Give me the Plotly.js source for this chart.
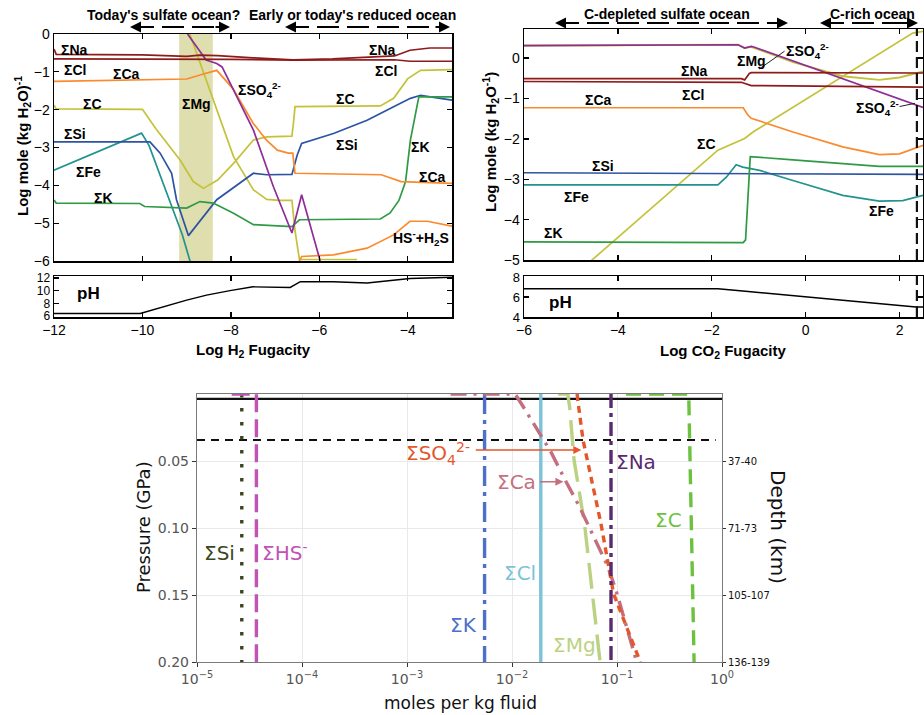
<!DOCTYPE html>
<html><head><meta charset="utf-8">
<script src="https://cdn.plot.ly/plotly-3.0.1.min.js"></script>
<style>html,body{margin:0;padding:0;background:#fff}#chart{width:924px;height:715px}</style>
</head><body><div id="chart"></div>
<script>
// ===== Panel A : Log H2 fugacity =====
const aNa_x = [-12, -11.95, -10.0, -9.5, -9.0, -8.7, -8.3, -7.5, -6.6, -5.7, -4.8, -4.3, -3.95, -3.5, -3.0];
const aNa_y = [-0.40, -0.54, -0.55, -0.58, -0.59, -0.56, -0.57, -0.63, -0.68, -0.66, -0.62, -0.58, -0.43, -0.37, -0.37];
const aCl_x = [-12, -10, -8, -6.6, -4.3, -3.95, -3.0];
const aCl_y = [-0.66, -0.66, -0.67, -0.69, -0.68, -0.72, -0.72];
const aCa_x = [-12, -10, -9.0, -8.6, -8.32, -7.95, -7.5, -7.2, -6.95, -6.7, -6.6, -6.55, -4.6, -4.15, -3.0];
const aCa_y = [-1.25, -1.22, -1.19, -1.05, -0.96, -1.45, -2.35, -2.8, -3.07, -3.15, -3.15, -3.68, -3.72, -3.9, -3.95];
const aC_x = [-12, -11.95, -10.0, -9.7, -9.15, -8.85, -8.62, -8.3, -7.94, -7.49, -7.19, -6.62, -6.58, -6.55, -4.62, -4.32, -4.0, -3.71, -3.0];
const aC_y = [-1.88, -1.98, -1.99, -2.5, -3.33, -3.9, -4.08, -3.86, -3.42, -2.8, -2.72, -2.7, -2.3, -1.92, -1.9, -1.7, -1.18, -0.96, -0.94];
const aMg_x = [-8.93, -8.4, -7.94, -7.49, -7.19, -6.9, -6.62, -6.55, -6.45, -5.15];
const aMg_y = [0, -1.75, -3.24, -4.12, -4.37, -4.4, -4.4, -5.2, -5.96, -5.96];
const aSO4_x = [-8.98, -8.56, -8.32, -8.2, -7.49, -7.04, -6.62, -6.40, -5.98, -5.9];
const aSO4_y = [0, -0.69, -0.78, -0.87, -2.54, -4.03, -5.26, -4.25, -6.0, -6.3];
const aSi_x = [-12, -9.83, -9.6, -9.34, -9.23, -8.96, -8.32, -7.49, -7.19, -6.62, -6.5, -6.40, -5.68, -4.92, -4.32, -3.94, -3.71, -3.0];
const aSi_y = [-2.85, -2.85, -3.15, -3.68, -4.38, -5.33, -4.38, -3.68, -3.72, -3.71, -3.2, -2.89, -2.63, -2.28, -1.92, -1.7, -1.62, -1.75];
const aFe_x = [-12, -10.02, -9.85, -9.5, -9.1, -8.9];
const aFe_y = [-3.6, -2.62, -2.95, -4.05, -5.3, -6.1];
const aK_x = [-12, -11.95, -10.06, -9.95, -9.0, -8.7, -8.4, -7.94, -7.49, -6.62, -6.45, -4.62, -4.4, -4.2, -4.05, -3.94, -3.75, -3.0];
const aK_y = [-4.39, -4.47, -4.48, -4.56, -4.6, -4.43, -4.47, -4.74, -5.04, -5.09, -4.91, -4.89, -4.73, -4.4, -3.9, -2.8, -1.66, -1.66];
const aHS_x = [-6.45, -6.4, -5.68, -4.92, -4.32, -3.95, -3.56, -3.0];
const aHS_y = [-6.0, -5.88, -5.84, -5.66, -5.31, -4.95, -4.95, -5.08];
const aPH_x = [-12, -10.05, -9.0, -8.55, -8.02, -7.5, -6.66, -6.43, -5.68, -4.92, -3.95, -3.0];
const aPH_y = [6.4, 6.4, 8.5, 9.3, 10.0, 10.6, 10.5, 11.4, 11.4, 11.2, 11.9, 12.1];
const aBand = [-9.17, -8.41];
const aLabelText = ['ΣNa','ΣCl','ΣCa','ΣC','ΣSi','ΣFe','ΣK','ΣMg','ΣSO<sub>4</sub><sup>2-</sup>','ΣNa','ΣCl','ΣC','ΣSi','ΣK','ΣCa','HS<sup>-</sup>+H<sub>2</sub>S'];
const aLabelX = [-11.53, -11.53, -10.36, -11.12, -11.53, -11.23, -10.89, -8.77, -7.36, -4.58, -4.5, -5.41, -5.38, -3.71, -3.45, -3.70];
const aLabelY = [-0.41, -0.96, -1.05, -1.84, -2.63, -3.64, -4.34, -1.84, -1.49, -0.43, -0.98, -1.73, -2.93, -2.98, -3.77, -5.40];
const aTicks = [-12, -10, -8, -6, -4];

// ===== Panel B : Log CO2 fugacity =====
const bSO4_x = [-6, -1.44, -1.30, -1.16, -1.12, 0.0, 1.0, 2.5];
const bSO4_y = [0.31, 0.33, 0.25, 0.29, 0.28, -0.18, -0.6, -1.22];
const bMg_x = [-6, -1.44, -1.30, -1.16, -0.27, 0.79, 1.57, 2.0, 2.5];
const bMg_y = [0.31, 0.33, 0.25, 0.28, -0.1, -0.45, -0.54, -0.48, -0.33];
const bNa_x = [-6, -1.37, -1.3, -1.2, -1.16, 2.5];
const bNa_y = [-0.51, -0.51, -0.54, -0.38, -0.36, -0.37];
const bCl_x = [-6, -1.37, -1.16, 2.5];
const bCl_y = [-0.58, -0.6, -0.68, -0.72];
const bCa_x = [-6, -1.33, -1.23, -1.16, -0.27, 0.79, 1.57, 2.0, 2.5];
const bCa_y = [-1.23, -1.23, -1.41, -1.49, -1.83, -2.2, -2.39, -2.37, -2.16];
const bC_x = [-4.6, -2.75, -1.87, -1.3, -1.12, 2.28, 2.5];
const bC_y = [-5.05, -3.17, -2.28, -1.99, -1.83, 0.62, 0.66];
const bSi_x = [-6, -1.2, 2.5];
const bSi_y = [-2.84, -2.86, -2.88];
const bFe_x = [-6, -1.87, -1.69, -1.48, -1.34, -0.98, -0.27, 0.79, 1.57, 2.07, 2.5];
const bFe_y = [-3.14, -3.14, -2.95, -2.64, -2.7, -2.78, -3.03, -3.4, -3.54, -3.53, -3.4];
const bK_x = [-6, -1.33, -1.28, -1.18, -0.27, 1.57, 2.5];
const bK_y = [-4.55, -4.57, -4.5, -2.44, -2.52, -2.68, -2.68];
const bPH_x = [-6, -1.87, -1.34, -0.27, 0.79, 2.35, 2.5];
const bPH_y = [6.83, 6.83, 6.6, 6.17, 5.67, 5.0, 5.0];
const bLimit = 2.37;
const bLabelText = ['ΣMg','ΣSO<sub>4</sub><sup>2-</sup>','ΣNa','ΣCl','ΣCa','ΣC','ΣSi','ΣFe','ΣK','ΣFe','ΣSO<sub>4</sub><sup>2-</sup>'];
const bLabelX = [-1.16, 0.05, -2.36, -2.40, -4.42, -2.11, -4.31, -4.88, -5.38, 1.61, 1.54];
const bLabelY = [-0.08, 0.17, -0.33, -0.91, -1.04, -2.12, -2.66, -3.44, -4.34, -3.78, -1.24];
const bTicks = [-6, -4, -2, 0, 2];

// ===== Panel C : moles per kg fluid vs pressure =====
const cSi_x = [2.67e-5, 2.67e-5];            const cSi_p = [0, 0.2];
const cHS_x = [2.14e-5, 3.68e-5, 3.68e-5];   const cHS_p = [0, 0, 0.2];
const cK_x = [0.00548, 0.00548];             const cK_p = [0, 0.2];
const cCl_x = [0.0188, 0.0188];              const cCl_p = [0, 0.2];
const cMg_x = [0.0275, 0.034, 0.0355, 0.039, 0.049, 0.069];
const cMg_p = [0, 0, 0.0107, 0.0493, 0.0966, 0.2];
const cNa_x = [0.0877, 0.0877];              const cNa_p = [0, 0.2];
const cSO4_x = [0.0417, 0.0423, 0.0475, 0.0703, 0.0927, 0.1667];
const cSO4_p = [0, 0.0045, 0.0344, 0.0966, 0.149, 0.2];
const cCa_x = [0.0026, 0.0107, 0.0125, 0.0171, 0.0234, 0.0321, 0.044, 0.0601, 0.0822, 0.1, 0.154];
const cCa_p = [0, 0, 0.0082, 0.0257, 0.043, 0.0643, 0.0842, 0.1066, 0.129, 0.149, 0.2];
const cC_x = [0.122, 0.482, 0.542];          const cC_p = [0, 0, 0.2];
const cSurface_p = 0.0037;
const cIce_p = 0.0344;
const cXTicks = [1e-5, 1e-4, 1e-3, 1e-2, 1e-1, 1];
const cXTickText = ['10<sup>−5</sup>','10<sup>−4</sup>','10<sup>−3</sup>','10<sup>−2</sup>','10<sup>−1</sup>','10<sup>0</sup>'];
const cPTicks = [0.05, 0.10, 0.15, 0.20];
const cPTickText = ['0.05','0.10','0.15','0.20'];
const cDepthText = ['37-40','71-73','105-107','136-139'];
const cLabelText = ['ΣSi','ΣHS<sup>-</sup>','ΣSO<sub>4</sub><sup>2-</sup>','ΣCa','ΣNa','ΣC','ΣCl','ΣK','ΣMg'];
const cLabelLogX = [-4.785, -4.171, -2.705, -1.96, -0.818, -0.505, -1.92, -2.466, -1.409];
const cLabelP = [0.1183, 0.1178, 0.0443, 0.0655, 0.0506, 0.0941, 0.1335, 0.1726, 0.1875];

// ---------- build ----------
const PX = v => v / 924, PY = v => 1 - v / 715;
const AF = 'Arial, "Liberation Sans", sans-serif';
const DF = '"DejaVu Sans", Verdana, sans-serif';
const traces = [];
function ln(x, y, xa, ya, color, width, dash) {
  traces.push({x: x, y: y, xaxis: xa, yaxis: ya, type: 'scatter', mode: 'lines',
    line: {color: color, width: width, dash: dash || 'solid'}, hoverinfo: 'skip', showlegend: false});
}
// Panel A
const cRed = '#8e1b1b', cOr = '#fb8a2c', cYel = '#c4c23a', cPur = '#8e2d98', cBlu = '#2d54a3', cTeal = '#22938f', cGrn = '#2f9a44';
ln(aC_x, aC_y, 'x', 'y', cYel, 1.7);
ln(aMg_x, aMg_y, 'x', 'y', cYel, 1.7);
ln(aFe_x, aFe_y, 'x', 'y', cTeal, 1.7);
ln(aSi_x, aSi_y, 'x', 'y', cBlu, 1.7);
ln(aK_x, aK_y, 'x', 'y', cGrn, 1.7);
ln(aCa_x, aCa_y, 'x', 'y', cOr, 1.7);
ln(aHS_x, aHS_y, 'x', 'y', cOr, 1.7);
ln(aSO4_x, aSO4_y, 'x', 'y', cPur, 1.7);
ln(aCl_x, aCl_y, 'x', 'y', cRed, 1.7);
ln(aNa_x, aNa_y, 'x', 'y', cRed, 1.7);
ln(aPH_x, aPH_y, 'x2', 'y2', '#000', 1.4);
// Panel B
ln(bC_x, bC_y, 'x3', 'y3', cYel, 1.7);
ln(bFe_x, bFe_y, 'x3', 'y3', cTeal, 1.7);
ln(bSi_x, bSi_y, 'x3', 'y3', cBlu, 1.7);
ln(bK_x, bK_y, 'x3', 'y3', cGrn, 1.7);
ln(bCa_x, bCa_y, 'x3', 'y3', cOr, 1.7);
ln(bMg_x, bMg_y, 'x3', 'y3', cYel, 1.9);
ln(bSO4_x, bSO4_y, 'x3', 'y3', cPur, 1.7);
ln(bCl_x, bCl_y, 'x3', 'y3', cRed, 1.7);
ln(bNa_x, bNa_y, 'x3', 'y3', cRed, 1.7);
ln(bPH_x, bPH_y, 'x4', 'y4', '#000', 1.4);
ln([bLimit, bLimit], [-5, 0.72], 'x3', 'y3', '#111', 2.2, '11px,5px');
ln([bLimit, bLimit], [4, 8.1], 'x4', 'y4', '#111', 2.2, '11px,5px');
ln([-0.99, -0.45], [-0.27, 0.17], 'x3', 'y3', '#222', 1, 'solid');
ln([2.0, 2.33], [-1.20, -1.12], 'x3', 'y3', '#222', 1, 'solid');
// Panel C
const W = 3.4;
ln([1e-5, 1], [cSurface_p, cSurface_p], 'x5', 'y5', '#111', 2.2);
ln([1e-5, 0.87], [cIce_p, cIce_p], 'x5', 'y5', '#111', 2, '8px,6px');
ln(cSi_x, cSi_p, 'x5', 'y5', '#3b4720', W, '3.5px,10.5px');
ln(cHS_x, cHS_p, 'x5', 'y5', '#c152b6', W, '18px,7px');
ln(cK_x, cK_p, 'x5', 'y5', '#4d70c8', W, '20px,6px,4px,6px');
ln(cCl_x, cCl_p, 'x5', 'y5', '#7dc3d8', W);
ln(cMg_x, cMg_p, 'x5', 'y5', '#bcd283', W, '26px,10px');
ln(cCa_x, cCa_p, 'x5', 'y5', '#c46f7e', W, '16px,7px,3px,7px');
ln(cSO4_x, cSO4_p, 'x5', 'y5', '#e3572b', W, '7px,5px');
ln(cNa_x, cNa_p, 'x5', 'y5', '#5b2a6e', W, '14px,5px,4px,5px');
ln(cC_x, cC_p, 'x5', 'y5', '#6cc23f', W, '15px,8px');
// invisible carrier so the depth axis (y6) is drawn
traces.push({x: [1e-3], y: [0.1], xaxis: 'x5', yaxis: 'y6', type: 'scatter', mode: 'markers',
  marker: {opacity: 0, size: 1}, hoverinfo: 'skip', showlegend: false});

const cLabelColor = ['#3b4720', '#c152b6', '#e3572b', '#c46f7e', '#5b2a6e', '#6cc23f', '#7dc3d8', '#4d70c8', '#bcd283'];

const frame = {showline: true, linecolor: '#000', linewidth: 1.5, mirror: 'allticks', ticks: 'inside',
  ticklen: 5, tickwidth: 1.3, tickcolor: '#000', showgrid: false, zeroline: false, fixedrange: true,
  tickfont: {family: AF, size: 14, color: '#000'}};
const layout = {
  width: 924, height: 715, margin: {l: 0, r: 0, t: 0, b: 0}, paper_bgcolor: '#fff', plot_bgcolor: 'rgba(0,0,0,0)',
  showlegend: false,
  xaxis: Object.assign({}, frame, {domain: [PX(54), PX(452)], range: [-12, -3], anchor: 'y', tickvals: aTicks, showticklabels: false}),
  yaxis: Object.assign({}, frame, {domain: [PY(261), PY(34)], range: [-6, 0], anchor: 'x', dtick: 1}),
  xaxis2: Object.assign({}, frame, {domain: [PX(54), PX(452)], range: [-12, -3], anchor: 'y2', tickvals: aTicks}),
  yaxis2: Object.assign({}, frame, {domain: [PY(317), PY(276)], range: [5.85, 12.3], anchor: 'x2', tickvals: [6, 8, 10, 12], tickfont: {family: AF, size: 12, color: '#000'}}),
  xaxis3: Object.assign({}, frame, {domain: [PX(524), PX(923)], range: [-6, 2.5], anchor: 'y3', tickvals: bTicks, showticklabels: false}),
  yaxis3: Object.assign({}, frame, {domain: [PY(260), PY(29)], range: [-5, 0.72], anchor: 'x3', dtick: 1}),
  xaxis4: Object.assign({}, frame, {domain: [PX(524), PX(923)], range: [-6, 2.5], anchor: 'y4', tickvals: bTicks}),
  yaxis4: Object.assign({}, frame, {domain: [PY(317), PY(276)], range: [4, 8.1], anchor: 'x4', tickvals: [4, 6, 8], tickfont: {family: AF, size: 13, color: '#000'}}),
  xaxis5: {domain: [PX(197), PX(722)], type: 'log', range: [-5, 0], anchor: 'y5', tickvals: cXTicks, ticktext: cXTickText,
    ticks: 'outside', ticklen: 4, tickcolor: '#333', showline: true, linecolor: '#7a7a7a', linewidth: 1.2, mirror: true,
    showgrid: true, gridcolor: '#e9e9e9', gridwidth: 1, zeroline: false, fixedrange: true,
    tickfont: {family: DF, size: 14, color: '#555'}},
  yaxis5: {domain: [PY(662), PY(394)], range: [0.2, 0], anchor: 'x5', tickvals: cPTicks, ticktext: cPTickText,
    ticks: 'outside', ticklen: 4, tickcolor: '#333', showline: true, linecolor: '#7a7a7a', linewidth: 1.2, mirror: true,
    showgrid: true, gridcolor: '#e9e9e9', gridwidth: 1, zeroline: false, fixedrange: true,
    tickfont: {family: DF, size: 14, color: '#555'}},
  yaxis6: {overlaying: 'y5', side: 'right', anchor: 'x5', range: [0.2, 0], tickvals: cPTicks, ticktext: cDepthText,
    ticks: 'outside', ticklen: 3, tickcolor: '#333', showgrid: false, zeroline: false, showline: false, fixedrange: true,
    tickfont: {family: DF, size: 10, color: '#111'}},
  shapes: [
    {type: 'rect', xref: 'x', yref: 'y', x0: aBand[0], x1: aBand[1], y0: -6, y1: 0, fillcolor: '#dedeae', line: {width: 0}, layer: 'below'},
    {type: 'line', xref: 'paper', yref: 'paper', x0: PX(132), x1: PX(228), y0: PY(27), y1: PY(27), line: {color: '#000', width: 2, dash: '22px,8px'}},
    {type: 'line', xref: 'paper', yref: 'paper', x0: PX(287), x1: PX(448), y0: PY(27), y1: PY(27), line: {color: '#000', width: 2, dash: '22px,8px'}},
    {type: 'line', xref: 'paper', yref: 'paper', x0: PX(557), x1: PX(786), y0: PY(23), y1: PY(23), line: {color: '#000', width: 2, dash: '22px,8px'}},
    {type: 'line', xref: 'paper', yref: 'paper', x0: PX(822), x1: PX(916), y0: PY(23), y1: PY(23), line: {color: '#000', width: 2, dash: '22px,8px'}}
  ],
  annotations: []
};
const ann = layout.annotations;
function head(px, py, dir) {
  ann.push({xref: 'paper', yref: 'paper', x: PX(px), y: PY(py), ax: 16 * dir, ay: 0, text: '', showarrow: true,
    arrowhead: 2, arrowsize: 1.1, arrowwidth: 2, arrowcolor: '#000'});
}
head(130, 27, 1); head(230, 27, -1); head(285, 27, 1); head(450, 27, -1);
head(555, 23, 1); head(788, 23, -1); head(820, 23, 1); head(918, 23, -1);
function ptxt(text, px, py, size, opts) {
  ann.push(Object.assign({xref: 'paper', yref: 'paper', x: PX(px), y: PY(py), text: text, showarrow: false,
    xanchor: 'center', yanchor: 'middle', font: {family: AF, size: size, color: '#000'}}, opts || {}));
}
ptxt('<b>Today\'s sulfate ocean?</b>', 163, 15, 14);
ptxt('<b>Early or today\'s reduced ocean</b>', 352, 15, 14);
ptxt('<b>C-depleted sulfate ocean</b>', 667, 14, 14);
ptxt('<b>C-rich ocean</b>', 872, 14, 14);
ptxt('<b>Log mole (kg H<sub>2</sub>O)<sup>-1</sup></b>', 22, 146, 15, {textangle: -90});
ptxt('<b>Log mole (kg H<sub>2</sub>O<sup>-1</sup>)</b>', 490, 142, 15, {textangle: -90});
ptxt('<b>Log H<sub>2</sub> Fugacity</b>', 253, 350, 15);
ptxt('<b>Log CO<sub>2</sub> Fugacity</b>', 723, 351, 15);
ptxt('<b>pH</b>', 88, 294, 17);
ptxt('<b>pH</b>', 560, 303, 17);
ptxt('Pressure (GPa)', 143, 527, 18, {textangle: -90, font: {family: DF, size: 18, color: '#111'}});
ptxt('moles per kg fluid', 460, 703, 17, {font: {family: DF, size: 17, color: '#111'}});
ptxt('Depth (km)', 778, 527, 20, {textangle: 90, font: {family: DF, size: 20, color: '#111'}});

aLabelText.forEach((t, i) => ann.push({xref: 'x', yref: 'y', x: aLabelX[i], y: aLabelY[i], text: '<b>' + t + '</b>',
  showarrow: false, font: {family: AF, size: 14, color: '#000'}}));
bLabelText.forEach((t, i) => ann.push({xref: 'x3', yref: 'y3', x: bLabelX[i], y: bLabelY[i], text: '<b>' + t + '</b>',
  showarrow: false, font: {family: AF, size: 14, color: '#000'}}));
cLabelText.forEach((t, i) => ann.push({xref: 'x5', yref: 'y5', x: cLabelLogX[i], y: cLabelP[i], text: t,
  showarrow: false, font: {family: DF, size: 20, color: cLabelColor[i]}}));
ann.push({xref: 'x5', yref: 'y5', x: -1.34, y: 0.0418, ax: -107, ay: 0, text: '', showarrow: true,
  arrowhead: 2, arrowsize: 1, arrowwidth: 1.6, arrowcolor: '#e3572b'});
ann.push({xref: 'x5', yref: 'y5', x: -1.511, y: 0.0655, ax: -25, ay: 0, text: '', showarrow: true,
  arrowhead: 2, arrowsize: 1, arrowwidth: 1.6, arrowcolor: '#c46f7e'});

Plotly.newPlot('chart', traces, layout, {displayModeBar: false, staticPlot: true});
</script></body></html>
